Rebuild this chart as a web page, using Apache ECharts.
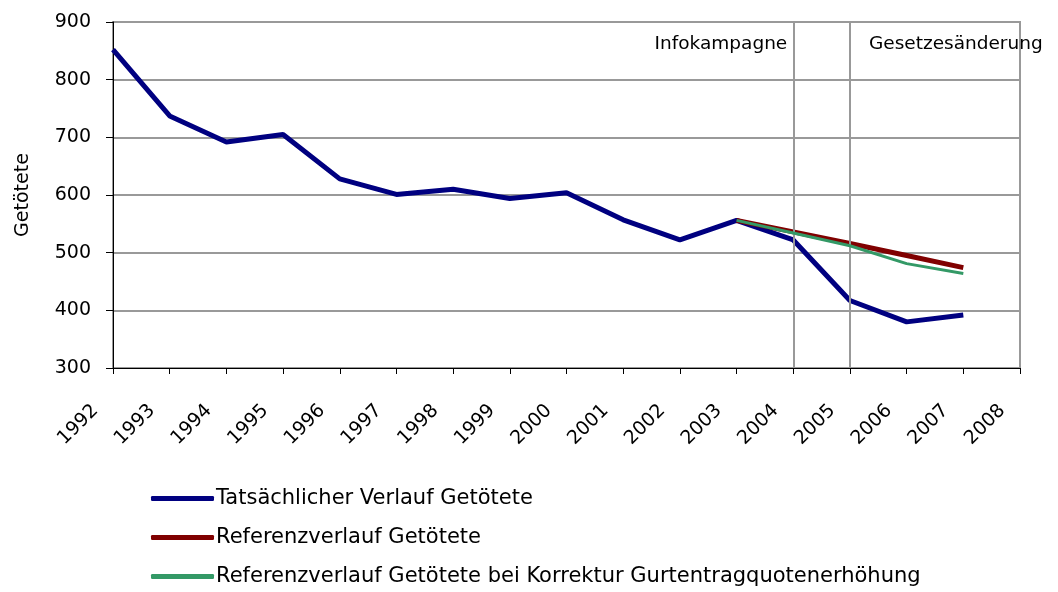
<!DOCTYPE html>
<html>
<head>
<meta charset="utf-8">
<script src="https://cdn.jsdelivr.net/npm/echarts@6/dist/echarts.min.js"></script>
<style>
html, body { margin: 0; padding: 0; background: #fff; }
#main { width: 1058px; height: 592px; }
</style>
</head>
<body>
<div id="main"></div>
<script>
// Jahre (Kategorien)
var years = ['1992', '1993', '1994', '1995', '1996', '1997', '1998', '1999', '2000',
             '2001', '2002', '2003', '2004', '2005', '2006', '2007', '2008'];
// Tatsächlicher Verlauf
var actual = [852, 737, 692, 705, 628, 601, 610, 594, 604, 557, 522, 556, 522, 417, 380, 392, '-'];
// Referenzverlauf
var reference = ['-', '-', '-', '-', '-', '-', '-', '-', '-', '-', '-', 556, 536, 516, 495, 474, '-'];
// Referenzverlauf mit Korrektur Gurtentragquote
var corrected = ['-', '-', '-', '-', '-', '-', '-', '-', '-', '-', '-', 556, 534, 512, 481, 464, '-'];
var seriesNames = [
    'Tatsächlicher Verlauf Getötete',
    'Referenzverlauf Getötete',
    'Referenzverlauf Getötete bei Korrektur Gurtentragquotenerhöhung'
];
var eventYears = ['2004', '2005'];
var eventLabels = ['Infokampagne', 'Gesetzesänderung'];

var font = 'DejaVu Sans, Liberation Sans, sans-serif';
var myChart = echarts.init(document.getElementById('main'));

var option = {
    animation: false,
    grid: {
        left: 113, right: 38, top: 22, bottom: 224,
        show: true, borderColor: '#999', borderWidth: 2
    },
    legend: {
        orient: 'vertical',
        left: 146, top: 483,
        itemGap: 18,
        itemWidth: 63, itemHeight: 5,
        icon: 'roundRect',
        textStyle: { fontFamily: font, fontSize: 21, color: '#000', padding: [0, 0, 0, -3] },
        data: seriesNames
    },
    xAxis: {
        type: 'category',
        data: years,
        boundaryGap: false,
        axisLine: { lineStyle: { color: '#000', width: 1 } },
        axisTick: { show: true, length: 6, alignWithLabel: true, lineStyle: { color: '#000' } },
        axisLabel: {
            interval: 0, rotate: 45, margin: 22, padding: [0, 25, 0, 0],
            fontFamily: font, fontSize: 19, color: '#000'
        },
        splitLine: { show: false }
    },
    yAxis: {
        type: 'value',
        min: 300, max: 900, interval: 100,
        name: 'Getötete',
        nameLocation: 'middle',
        nameGap: 80,
        nameRotate: 90,
        nameTextStyle: { fontFamily: font, fontSize: 19, color: '#000' },
        axisLine: { show: true, lineStyle: { color: '#000', width: 1 } },
        axisTick: { show: true, length: 7, lineStyle: { color: '#000' } },
        axisLabel: { margin: 22, fontFamily: font, fontSize: 19, color: '#000' },
        splitLine: { lineStyle: { color: '#999', width: 2 } }
    },
    series: [
        {
            name: seriesNames[0],
            type: 'line',
            data: actual,
            symbol: 'none',
            z: 3,
            lineStyle: { color: '#000080', width: 5 },
            itemStyle: { color: '#000080' },
            markLine: {
                silent: true,
                symbol: 'none',
                label: { show: false },
                lineStyle: { color: '#999', width: 2, type: 'solid' },
                data: eventYears.map(function (y) { return { xAxis: y }; })
            },
            markPoint: {
                silent: true,
                symbolSize: 0,
                data: [
                    {
                        coord: [eventYears[0], 900],
                        label: {
                            show: true, formatter: eventLabels[0], position: 'left',
                            offset: [-1, 22], fontFamily: font, fontSize: 18.5, color: '#000'
                        }
                    },
                    {
                        coord: [eventYears[1], 900],
                        label: {
                            show: true, formatter: eventLabels[1], position: 'right',
                            offset: [14, 22], fontFamily: font, fontSize: 18.5, color: '#000'
                        }
                    }
                ]
            }
        },
        {
            name: seriesNames[1],
            type: 'line',
            data: reference,
            symbol: 'none',
            z: 4,
            lineStyle: { color: '#800000', width: 5 },
            itemStyle: { color: '#800000' }
        },
        {
            name: seriesNames[2],
            type: 'line',
            data: corrected,
            symbol: 'none',
            z: 5,
            lineStyle: { color: '#339966', width: 3 },
            itemStyle: { color: '#339966' }
        }
    ]
};

myChart.setOption(option);
</script>
</body>
</html>
